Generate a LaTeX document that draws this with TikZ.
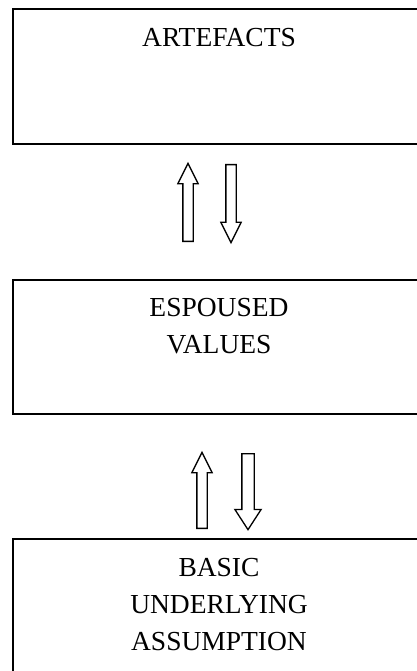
\documentclass[tikz,border=0pt]{standalone}
\usepackage{fontspec}
\setmainfont{Liberation Serif}
\usetikzlibrary{shapes.arrows, positioning}

\begin{document}
\begin{tikzpicture}[
            x=1pt,
            y=-1pt,
            level box/.style={
                    draw=black,
                    line width=2pt,
                    rectangle,
                    minimum width=414pt,
                    inner sep=0pt,
                    anchor=north west
                },
            level text/.style={
                    align=center,
                    inner sep=0pt,
                    anchor=north,
                    font=\fontsize{27.5}{37}\selectfont
                },
            block arrow/.style={
                    draw=black,
                    line width=1.3pt,
                    single arrow,
                    inner sep=4.5pt,
                    minimum height=78pt,
                    single arrow head extend=5pt,
                    single arrow tip angle=53,
                    anchor=tail
                },
            up arrow/.style={
                    block arrow,
                    shape border rotate=90
                },
            down arrow/.style={
                    block arrow,
                    shape border rotate=270
                }
        ]

        \clip (0,0) rectangle (417,671);

        % Levels
        \node[level box, minimum height=135pt] (artefacts) at (12, 8) {};
        \node[level box, minimum height=134pt] (values) at (12, 279) {};
        \node[level box, minimum height=170pt] (assumption) at (12, 538) {};

        % Level texts
        \node[level text] (artefacts-text) at (219, 28) {ARTEFACTS};
        \node[level text] (values-text) at (219, 298) {ESPOUSED\\VALUES};
        \node[level text] (assumption-text) at (219, 558) {BASIC\\UNDERLYING\\ASSUMPTION};

        % Arrows between levels
        \node[up arrow] (up-1) at (188, 242) {};
        \node[down arrow] (down-1) at (231, 164) {};
        \node[up arrow, minimum height=76pt] (up-2) at (202, 529) {};
        \node[down arrow, minimum height=76pt, inner sep=5.5pt,
            single arrow head extend=7pt, single arrow tip angle=66] (down-2) at (248, 453) {};

    \end{tikzpicture}
\end{document}
